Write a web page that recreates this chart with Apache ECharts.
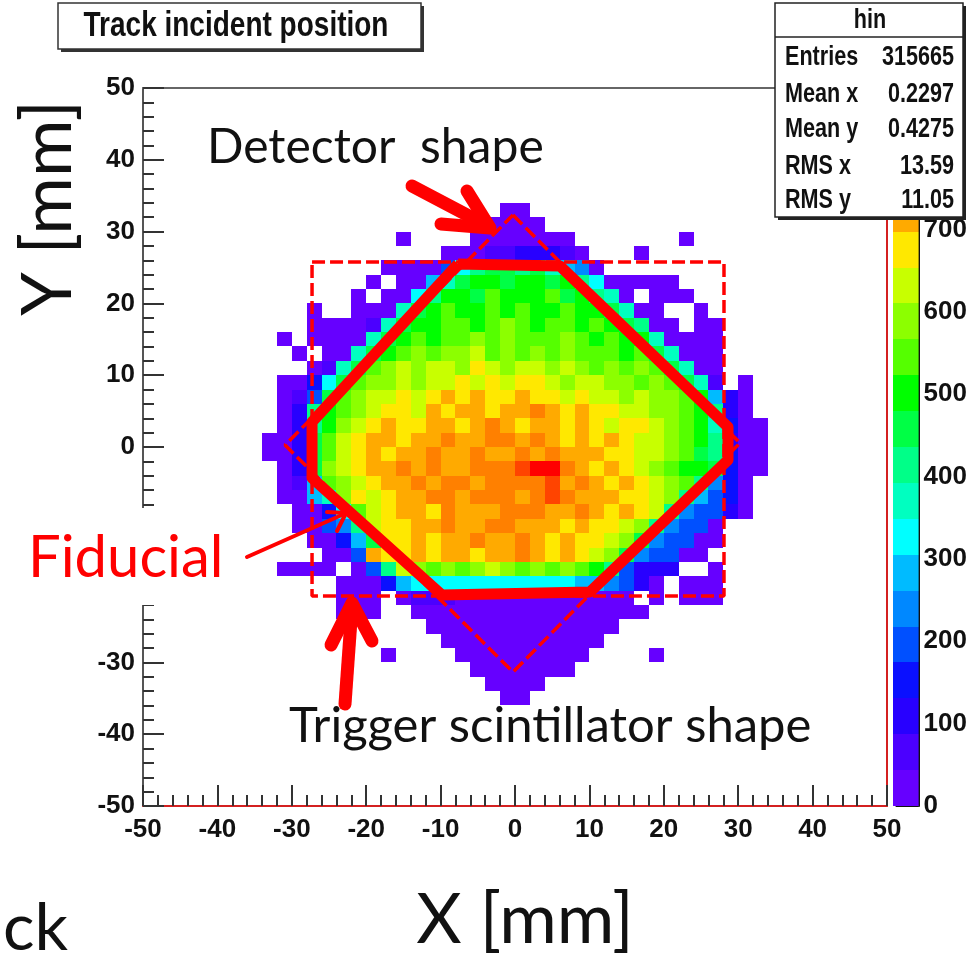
<!DOCTYPE html>
<html>
<head>
<meta charset="utf-8">
<script src="https://cdn.jsdelivr.net/npm/echarts@6/dist/echarts.min.js"></script>
<style>
html, body { margin: 0; padding: 0; background: #fff; }
#main { width: 970px; height: 953px; }
</style>
</head>
<body>
<div id="main"></div>
<script>
// histogram bins: 2 mm, first column starts at x = -34, first row top at y = 34
var binSize = 2;
var firstBinX = -34;
var firstBinTop = 34;
// one char per bin = colour band ('.' empty, 0-9 then a-j)
var levelRows = [
    "................00.................",
    "..............00000................",
    ".........0....0000000.......0......",
    "............0001122210...0.........",
    "........0000479aa9a8650............",
    ".......0.0068abbabbab9700000.......",
    "......0.0079bbacbbbcab980.000......",
    "...0..0008abcbbcbcbbcbba800..0.....",
    "...000018abbccbcdcbccbcba900.00....",
    ".0.00008abcbccdcdcccdcbcbb80000....",
    "..0.008abcdcddecdcdcdcccbca8000....",
    "...018acdedeedfedeededcdcdca800....",
    ".0037acddedeefefeffedeeddcdca81.0..",
    ".014acdeefefgfgffgffefeededdcb620..",
    ".029bcdeffegfggfgghgfgffeeddcb920..",
    ".029bdefgffggfghgfggfgfeffedcb8300.",
    "002acefggfgghgghhghgfgfgfeedcb9200.",
    "002acefgfgghgghgghghgggffeedca9300.",
    ".02adefgghghgghhhijjhgfgfedcbba300.",
    ".016cdefgghghhghhhhighgfgfedc9530..",
    ".0068dfefgghhghhhghihgggffed96430..",
    "..0037cefggfhggghhhgghgfgfe954420...",
    "..00459effgghgghhgggfgffed95440....",
    "...0036affgfgghgghgfgffeda54400....",
    "....004gffgfggfgghgfgfeda54400.....",
    ".0000.049edcdcdedcdcdcb94222..0....",
    ".....0003677777777777665420.000....",
    ".....000.0111000000000000.0.000....",
    ".....000..0000000000000000.........",
    "...........0000000000000...........",
    "............00000000000............",
    "........0....000000000....0........",
    "..............0000000..............",
    "...............0000................",
    "................00................."
];
var zMax = 872;
var palette = ['#6600ff', '#4b00ff', '#2800ff', '#0a10ff', '#0050ff', '#0088ff', '#00bbff',
    '#00ffff', '#00ffc0', '#00ff88', '#00ff45', '#00ff00', '#55ff00', '#8cff00', '#c8ff00',
    '#ffe800', '#ffaa00', '#ff8000', '#ff4400', '#ff0000'];

var statNames = ['Entries', 'Mean x', 'Mean y', 'RMS x', 'RMS y'];
var statValues = ['315665', '0.2297', '0.4275', '13.59', '11.05'];

// drawn shapes, in mm
var fiducialX = [-7.66, 6.05, 28.63, 28.63, 10.08, -9.81, -27.28, -27.28, -7.66];
var fiducialY = [25.49, 25.21, 2.79, -1.81, -20.19, -20.61, -4.32, 3.48, 25.49];
var detectorX = [-0.27, 30.24, -0.27, -30.91, -0.27];
var detectorY = [32.31, 0.56, -31.34, 0.28, 32.31];
var triggerX = [-27.28, 28.09, 28.09, -27.28, -27.28];
var triggerY = [25.77, 25.77, -20.75, -20.75, 25.77];

var narrow = "'Liberation Sans', Arial, sans-serif";
var slide = "Lato, 'Open Sans', sans-serif";
var step = zMax / palette.length;

var cells = [];
levelRows.forEach(function (row, i) {
    for (var j = 0; j < row.length; j++) {
        var ch = row.charAt(j);
        if (ch === '.') continue;
        var level = parseInt(ch, 20);
        cells.push([firstBinX + j * binSize, firstBinTop - (i + 1) * binSize, (level + 0.5) * step]);
    }
});

var bands = palette.map(function (c, i) { return [i * step, (i + 1) * step, i]; });
var pieces = palette.map(function (c, i) { return { gte: i * step, lt: (i + 1) * step, color: c }; });

function pts(xs, ys) {
    return xs.map(function (x, i) { return [x, ys[i]]; });
}

function txt(s, x, y, font, align, extra, color) {
    var el = {
        type: 'text', z: 102, x: x, y: y,
        style: { text: s, font: font, fill: color || '#111', align: align, verticalAlign: 'middle', textAlign: align, textVerticalAlign: 'middle' }
    };
    return Object.assign(el, extra || {});
}

var tickLabel = { fontFamily: narrow, fontWeight: 'bold', fontSize: 26, color: '#111' };
var squeeze = { scaleX: 0.8 };

var myChart = echarts.init(document.getElementById('main'));

var graphics = [
    // title box
    { type: 'rect', z: 100, shape: { x: 61, y: 6, width: 363, height: 46 }, style: { fill: '#333' } },
    { type: 'rect', z: 101, shape: { x: 58, y: 3, width: 363, height: 46 }, style: { fill: '#fff', stroke: '#333', lineWidth: 1.5 } },
    txt('Track incident position', 236, 26, 'bold 35px ' + narrow, 'center', squeeze),
    // stats box
    { type: 'rect', z: 100, shape: { x: 778, y: 6, width: 188, height: 214 }, style: { fill: '#222' } },
    { type: 'rect', z: 101, shape: { x: 775, y: 3, width: 188, height: 214 }, style: { fill: '#fff', stroke: '#222', lineWidth: 1.5 } },
    { type: 'line', z: 102, shape: { x1: 775, y1: 37, x2: 963, y2: 37 }, style: { stroke: '#222', lineWidth: 1.5 } },
    txt('hin', 870, 21, 'bold 27px ' + narrow, 'center', squeeze),
    // white patch behind "Fiducial"
    { type: 'rect', z: 100, shape: { x: 0, y: 508, width: 236, height: 97 }, style: { fill: '#fff' } },
    txt('Fiducial', 28, 558, '58px ' + slide, 'left', null, '#ff0000'),
    txt('Detector  shape', 207, 148, '48px ' + slide, 'left'),
    txt('Trigger scintillator shape', 289, 726, '49px ' + slide, 'left'),
    txt('X [mm]', 525, 920, '70px ' + slide, 'center'),
    txt('Y [mm]', 48, 208, '70px ' + slide, 'center', { rotation: Math.PI / 2 }),
    txt('ck', 3, 929, '66px ' + slide, 'left'),
    // arrows
    { type: 'polyline', z: 103, shape: { points: [[412, 186], [488, 226]] }, style: { stroke: '#ff0000', lineWidth: 13, lineCap: 'round', fill: null } },
    { type: 'polyline', z: 103, shape: { points: [[441, 224], [490, 228], [467, 191]] }, style: { stroke: '#ff0000', lineWidth: 13, lineCap: 'round', lineJoin: 'round', fill: null } },
    { type: 'polyline', z: 103, shape: { points: [[345, 704], [352, 606]] }, style: { stroke: '#ff0000', lineWidth: 13, lineCap: 'round', fill: null } },
    { type: 'polyline', z: 103, shape: { points: [[331, 645], [352, 603], [372, 641]] }, style: { stroke: '#ff0000', lineWidth: 13, lineCap: 'round', lineJoin: 'round', fill: null } },
    { type: 'polyline', z: 103, shape: { points: [[247, 557], [344, 514]] }, style: { stroke: '#ff0000', lineWidth: 4, lineCap: 'round', fill: null } },
    { type: 'polyline', z: 103, shape: { points: [[327, 512], [346, 513], [337, 531]] }, style: { stroke: '#ff0000', lineWidth: 4, lineCap: 'round', lineJoin: 'round', fill: null } }
];
statNames.forEach(function (name, i) {
    var y = [58, 95, 130, 167, 201][i];
    graphics.push(txt(name, 785, y, 'bold 27px ' + narrow, 'left', squeeze));
    graphics.push(txt(statValues[i], 954, y, 'bold 27px ' + narrow, 'right', squeeze));
});

myChart.setOption({
    animation: false,
    grid: [
        { left: 143, top: 88, width: 744, height: 718 },
        { left: 893, top: 88, width: 42, height: 718 }
    ],
    visualMap: {
        show: false,
        type: 'piecewise',
        seriesIndex: 0,
        dimension: 2,
        pieces: pieces
    },
    xAxis: [
        {
            gridIndex: 0, type: 'value', min: -50, max: 50, interval: 10, position: 'bottom',
            axisLine: { onZero: false, lineStyle: { color: '#d42020', width: 2 } },
            axisTick: { inside: true, length: 21, lineStyle: { color: '#333', width: 2 } },
            minorTick: { show: true, splitNumber: 5, length: 11, lineStyle: { color: '#333', width: 2 } },
            axisLabel: Object.assign({ margin: 11 }, tickLabel),
            splitLine: { show: false }
        },
        {
            gridIndex: 0, type: 'value', min: -50, max: 50, position: 'top',
            axisLine: { onZero: false, lineStyle: { color: '#666', width: 2 } },
            axisTick: { show: false }, axisLabel: { show: false }, splitLine: { show: false }
        },
        { gridIndex: 1, type: 'value', min: 0, max: 1, show: false }
    ],
    yAxis: [
        {
            gridIndex: 0, type: 'value', min: -50, max: 50, interval: 10, position: 'left',
            axisLine: { onZero: false, lineStyle: { color: '#555', width: 2 } },
            axisTick: { inside: true, length: 21, lineStyle: { color: '#333', width: 2 } },
            minorTick: { show: true, splitNumber: 5, length: 11, lineStyle: { color: '#333', width: 2 } },
            axisLabel: Object.assign({ margin: 8 }, tickLabel),
            splitLine: { show: false }
        },
        {
            gridIndex: 0, type: 'value', min: -50, max: 50, position: 'right',
            axisLine: { onZero: false, lineStyle: { color: '#d42020', width: 2 } },
            axisTick: { show: false }, axisLabel: { show: false }, splitLine: { show: false }
        },
        {
            gridIndex: 1, type: 'value', min: 0, max: zMax, interval: 100, position: 'right',
            axisLine: { show: true, onZero: false, lineStyle: { color: '#111', width: 2 } },
            axisTick: { inside: true, length: 23, lineStyle: { color: '#111', width: 2 } },
            axisLabel: Object.assign({
                margin: 5,
                formatter: function (v) { return v % 100 === 0 ? String(v) : ''; }
            }, tickLabel),
            splitLine: { show: false }
        }
    ],
    series: [
        {
            type: 'custom',
            xAxisIndex: 0, yAxisIndex: 0,
            dimensions: ['x', 'y', 'z'],
            encode: { x: 0, y: 1 },
            data: cells,
            z: 2,
            renderItem: function (params, api) {
                var x0 = api.value(0), y0 = api.value(1);
                var a = api.coord([x0, y0 + binSize]);
                var b = api.coord([x0 + binSize, y0]);
                var l = Math.round(a[0]), t = Math.round(a[1]);
                var r = Math.round(b[0]), bt = Math.round(b[1]);
                return { type: 'rect', shape: { x: l, y: t, width: r - l, height: bt - t }, style: { fill: api.visual('color') } };
            }
        },
        {
            type: 'custom',
            xAxisIndex: 2, yAxisIndex: 2,
            encode: { y: [0, 1] },
            data: bands,
            renderItem: function (params, api) {
                var a = api.coord([0, api.value(1)]);
                var b = api.coord([1, api.value(0)]);
                return { type: 'rect', shape: { x: a[0], y: Math.round(a[1]), width: b[0] - a[0], height: Math.round(b[1]) - Math.round(a[1]) }, style: { fill: palette[api.value(2)] } };
            }
        },
        {
            type: 'line', xAxisIndex: 0, yAxisIndex: 0, z: 6, silent: true,
            data: pts(triggerX, triggerY), symbol: 'none',
            lineStyle: { color: '#ff0000', width: 3.5, type: [13, 5] }
        },
        {
            type: 'line', xAxisIndex: 0, yAxisIndex: 0, z: 6, silent: true,
            data: pts(detectorX, detectorY), symbol: 'none',
            lineStyle: { color: '#ff0000', width: 3.5, type: [13, 5] }
        },
        {
            type: 'line', xAxisIndex: 0, yAxisIndex: 0, z: 7, silent: true,
            data: pts(fiducialX, fiducialY), symbol: 'none',
            lineStyle: { color: '#ff0000', width: 11, join: 'round' }
        }
    ],
    graphic: graphics
});
</script>
</body>
</html>
